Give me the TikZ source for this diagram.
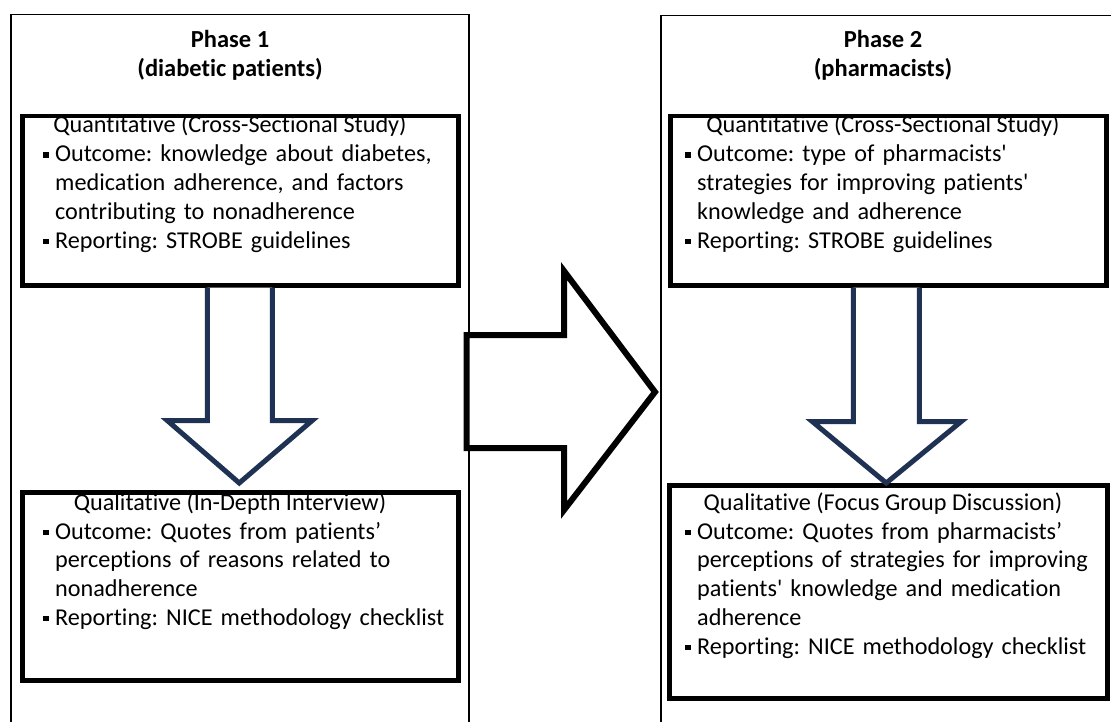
\documentclass[tikz,border=0pt]{standalone}
\usepackage{fontspec}
\setmainfont{Carlito}[Ligatures={TeXOff,NoCommon,NoContextual,NoRequired},Contextuals=NoAlternate]
\usetikzlibrary{calc}
\definecolor{navy}{RGB}{31,50,83}
\frenchspacing
\newcommand\bul{\makebox[12pt][l]{\rule[4pt]{5.5pt}{5.5pt}}}
\newcommand\ind{\hspace*{12pt}}
\begin{document}
\begin{tikzpicture}[x=1pt,y=-1pt,
  panel/.style={draw=black,line width=1.5pt,inner sep=0pt},
  box/.style={draw=black,line width=4.5pt,inner sep=0pt},
  title/.style={inner sep=0pt,anchor=base,font=\fontsize{24.5}{28.8}\selectfont\bfseries},
  head/.style={inner sep=0pt,anchor=base,font=\fontsize{24.2}{28.8}\selectfont},
  body/.style={inner sep=0pt,anchor=base west,align=left,text width=420pt,font=\fontsize{24.2}{28.8}\selectfont\frenchspacing},
  darrow/.style={draw=navy,line width=5pt,line join=miter,fill=white},
  bigarrow/.style={draw=black,line width=6pt,line join=miter,fill=white}]
\useasboundingbox (0,0) rectangle (1111,722);
% panels (bottom edge lies below the picture)
\node[panel,minimum width=458pt,minimum height=740pt,anchor=north west] (p1) at (10,14) {};
\node[panel,minimum width=470pt,minimum height=740pt,anchor=north west] (p2) at (660,15) {};
% titles
\node[title] (t1a) at (230,48) {Phase 1};
\node[title] (t1b) at (230,77) {(diabetic patients)};
\node[title] (t2a) at (883,48) {Phase 2};
\node[title] (t2b) at (883,77) {(pharmacists)};
% boxes
\node[box,minimum width=436pt,minimum height=169pt,anchor=north west] (q1) at (20,114) {};
\node[box,minimum width=436pt,minimum height=188pt,anchor=north west] (l1) at (20,490) {};
\node[box,minimum width=436pt,minimum height=169pt,anchor=north west] (q2) at (668,114) {};
\node[box,minimum width=438pt,minimum height=213pt,anchor=north west] (l2) at (667,483) {};
% texts
\node[head] (q1h) at (230,133) {Quantitative (Cross-Sectional Study)};
\node[body] (q1b) at (43,162) {\bul Outcome: knowledge about diabetes,\\
\ind medication adherence, and factors\\
\ind contributing to nonadherence\\
\bul Reporting: STROBE guidelines};
\node[head] (l1h) at (230,510) {Qualitative (In-Depth Interview)};
\node[body] (l1b) at (43,539) {\bul Outcome: Quotes from patients’\\
\ind perceptions of reasons related to\\
\ind nonadherence\\
\bul Reporting: NICE methodology checklist};
\node[head] (q2h) at (883,133) {Quantitative (Cross-Sectional Study)};
\node[body] (q2b) at (685,162) {\bul Outcome: type of pharmacists'\\
\ind strategies for improving patients'\\
\ind knowledge and adherence\\
\bul Reporting: STROBE guidelines};
\node[head] (l2h) at (883,510) {Qualitative (Focus Group Discussion)};
\node[body] (l2b) at (685,539) {\bul Outcome: Quotes from pharmacists’\\
\ind perceptions of strategies for improving\\
\ind patients' knowledge and medication\\
\ind adherence\\
\bul Reporting: NICE methodology checklist};
% down arrows
\coordinate (a1) at ($(q1.south)+(-1,0)$);
\coordinate (a1t) at ($(l1.north)+(-1,-7)$);
\draw[darrow] ($(a1)+(-32,0)$) -- ($(a1)+(-32,133)$) -- ($(a1)+(-72,133)$) -- (a1t)
  -- ($(a1)+(73,133)$) -- ($(a1)+(33,133)$) -- ($(a1)+(33,0)$);
\coordinate (a2) at ($(q2.south)+(-2,0)$);
\coordinate (a2t) at ($(l2.north)+(-2,0)$);
\draw[darrow] ($(a2)+(-33,0)$) -- ($(a2)+(-33,134)$) -- ($(a2)+(-74,134)$) -- (a2t)
  -- ($(a2)+(75,134)$) -- ($(a2)+(33,134)$) -- ($(a2)+(33,0)$);
% big arrow from phase 1 to phase 2
\coordinate (bs) at ($(p1.east)+(-3,0)$);
\coordinate (bt) at ($(p2.west)+(-5,0)$);
\draw[bigarrow] (bs |- 0,335) -- (564,335) -- (564,271) -- (bt |- 0,392) -- (564,510) -- (564,448) -- (bs |- 0,448) -- cycle;
\end{tikzpicture}
\end{document}
